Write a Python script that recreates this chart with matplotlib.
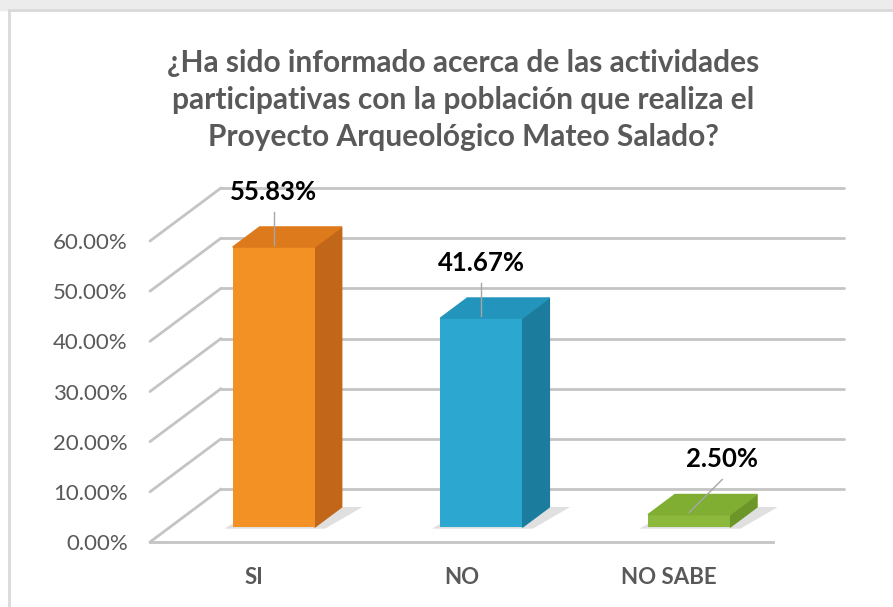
import matplotlib.pyplot as plt
from matplotlib.patches import Polygon, Rectangle
from matplotlib.lines import Line2D

# chart data
categories = ['SI', 'NO', 'NO SABE']
percentages = [55.83, 41.67, 2.50]
y_ticks = [0, 10, 20, 30, 40, 50, 60]

title = ('¿Ha sido informado acerca de las actividades\n'
         'participativas con la población que realiza el\n'
         'Proyecto Arqueológico Mateo Salado?')

front_colors = ['#F39124', '#2BA7D0', '#8CB83B']
side_colors = ['#C2661A', '#1B7C9E', '#6C9628']
top_colors = ['#DD7A1C', '#2394BC', '#7FAE32']

plt.rcParams['font.family'] = ['Lato', 'DejaVu Sans']
GRAY_TXT = '#595959'
GRID = '#c4c4c4'

W, H = 893, 607
fig = plt.figure(figsize=(W / 100, H / 100), dpi=100)
fig.patch.set_facecolor('white')

# slide background strip and chart frame
fig.patches.append(Rectangle((0, (H - 10) / H), 1, 10 / H, transform=fig.transFigure,
                             color='#ececec', zorder=0))
fig.add_artist(Line2D([8.5 / W, 8.5 / W], [0, (H - 10) / H], color='#d9d9d9', lw=2))
fig.add_artist(Line2D([8.5 / W, 1], [(H - 10) / H] * 2, color='#d9d9d9', lw=2))

# front plane of the 3D box
ax = fig.add_axes([150 / W, (H - 542) / H, 623 / W, 301 / H])
ax.set_xlim(-0.5, 2.5)
ax.set_ylim(0, 60)
for s in ax.spines.values():
    s.set_visible(False)
ax.patch.set_visible(False)

# depth of the box in data units
px_x = 623 / 3.0
px_y = 301 / 60.0
DX = 71 / px_x
DY = 53 / px_y
F0 = 0.28   # bar front position inside the depth
D = 0.38    # bar depth
BW = 0.395  # bar width

# back wall and side wall gridlines
for v in y_ticks:
    ax.plot([-0.5 + DX, 2.5 + DX], [v + DY, v + DY], color=GRID, lw=2,
            clip_on=False, zorder=1, solid_capstyle='round')
    ax.plot([-0.5, -0.5 + DX], [v, v + DY], color=GRID, lw=2,
            clip_on=False, zorder=1, solid_capstyle='round')
ax.plot([-0.5, 2.5], [0, 0], color=GRID, lw=2, clip_on=False, zorder=1)

# bars
for i, v in enumerate(percentages):
    xc = i + F0 * DX
    x0 = xc - BW / 2
    y0 = F0 * DY
    # soft floor shadow
    ax.add_patch(Polygon([(x0 - 0.04, y0 - 0.3), (x0 + BW + 0.05, y0 - 0.3),
                          (x0 + BW + D * DX + 0.1, y0 + D * DY),
                          (x0 + D * DX, y0 + D * DY)],
                         closed=True, color='#000000', alpha=0.12, lw=0,
                         zorder=2, clip_on=False))
    ax.bar(xc, v, width=BW, bottom=y0, color=front_colors[i], zorder=4,
           clip_on=False)
    top = [(x0, y0 + v), (x0 + BW, y0 + v),
           (x0 + BW + D * DX, y0 + v + D * DY), (x0 + D * DX, y0 + v + D * DY)]
    side = [(x0 + BW, y0), (x0 + BW + D * DX, y0 + D * DY),
            (x0 + BW + D * DX, y0 + v + D * DY), (x0 + BW, y0 + v)]
    ax.add_patch(Polygon(top, closed=True, color=top_colors[i], zorder=4,
                         clip_on=False))
    ax.add_patch(Polygon(side, closed=True, color=side_colors[i], zorder=3,
                         clip_on=False))

    # data label with leader line
    ly = y0 + v + 11.0
    lx = xc + (0.16 if v < 5 else 0.0)
    ax.text(lx, ly, f'{v:.2f}%', ha='center', va='center', fontsize=18.5,
            fontweight='bold', color='black', zorder=6, clip_on=False)
    ax.plot([lx, xc], [ly - 4.0, y0 + v + 0.4], color='#a6a6a6', lw=1,
            zorder=5, clip_on=False)

# axes ticks
ax.set_yticks(y_ticks)
ax.set_yticklabels([f'{v:.2f}%' for v in y_ticks], fontsize=16, color=GRAY_TXT)
ax.set_xticks(range(len(categories)))
ax.set_xticklabels(categories, fontsize=16, fontweight='bold', color=GRAY_TXT)
ax.tick_params(axis='y', length=0, pad=16)
ax.tick_params(axis='x', length=0, pad=18)

fig.text(463 / W, 1 - 100 / H, title, ha='center', va='center', fontsize=21.5,
         fontweight='bold', color=GRAY_TXT, linespacing=1.4)

plt.savefig('out.png', dpi=100)
